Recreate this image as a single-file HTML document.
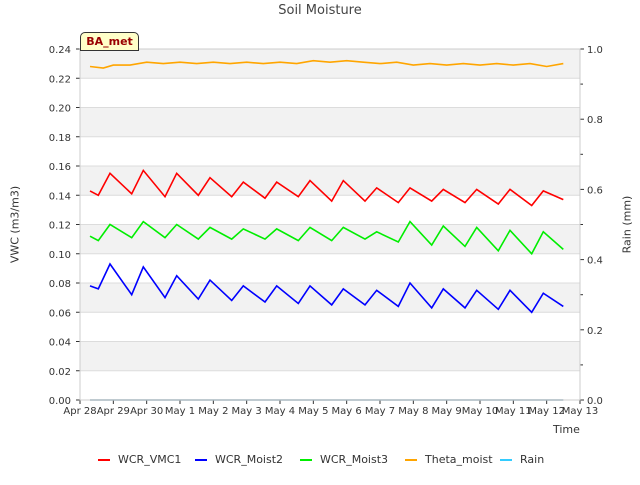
<!DOCTYPE html>
<html><head><meta charset="utf-8"><style>
body{margin:0;background:#fff;font-family:"Liberation Sans","DejaVu Sans",sans-serif}
svg text{font-family:"DejaVu Sans","Liberation Sans",sans-serif}
</style></head><body>
<svg id="c" width="640" height="480" xmlns="http://www.w3.org/2000/svg"></svg>
<script>
const xTicks=["Apr 28","Apr 29","Apr 30","May 1","May 2","May 3","May 4","May 5","May 6","May 7","May 8","May 9","May 10","May 11","May 12","May 13"];
const yTicks=[0,0.02,0.04,0.06,0.08,0.10,0.12,0.14,0.16,0.18,0.20,0.22,0.24];
const y2Ticks=[0,0.2,0.4,0.6,0.8,1.0];
const vmcStart=0.143,vmcEnd=0.137;
const vmcTrough=[0.140,0.141,0.139,0.140,0.139,0.138,0.139,0.136,0.136,0.135,0.136,0.135,0.134,0.133];
const vmcPeak=[0.155,0.157,0.155,0.152,0.149,0.149,0.150,0.150,0.145,0.145,0.144,0.144,0.144,0.143];
const m2Start=0.078,m2End=0.064;
const m2Trough=[0.076,0.072,0.070,0.069,0.068,0.067,0.066,0.065,0.065,0.064,0.063,0.063,0.062,0.060];
const m2Peak=[0.093,0.091,0.085,0.082,0.078,0.078,0.078,0.076,0.075,0.080,0.076,0.075,0.075,0.073];
const m3Start=0.112,m3End=0.103;
const m3Trough=[0.109,0.111,0.111,0.110,0.110,0.110,0.109,0.109,0.110,0.108,0.106,0.105,0.102,0.100];
const m3Peak=[0.120,0.122,0.120,0.118,0.117,0.117,0.118,0.118,0.115,0.122,0.119,0.118,0.116,0.115];
const thetaDays=[0.3,0.7,1,1.5,2,2.5,3,3.5,4,4.5,5,5.5,6,6.5,7,7.5,8,8.5,9,9.5,10,10.5,11,11.5,12,12.5,13,13.5,14,14.5];
const thetaVals=[0.228,0.227,0.229,0.229,0.231,0.230,0.231,0.230,0.231,0.230,0.231,0.230,0.231,0.230,0.232,0.231,0.232,0.231,0.230,0.231,0.229,0.230,0.229,0.230,0.229,0.230,0.229,0.230,0.228,0.230];
const rainDays=[0.3,14.5];
const rainVals=[0,0];

const NS="http://www.w3.org/2000/svg",svg=document.getElementById('c');
const X0=80,X1=580,Y0=400,Y1=49;
const xs=d=>X0+d*(X1-X0)/15, ys=v=>Y0-v/0.24*(Y0-Y1), ys2=v=>Y0-v*(Y0-Y1);
function el(t,a,txt){const e=document.createElementNS(NS,t);for(const k in a)e.setAttribute(k,a[k]);if(txt!=null)e.textContent=txt;svg.appendChild(e);return e;}
for(let i=0;i<6;i++){const lo=0.02+i*0.04;
 const r=el('rect',{x:X0,y:ys(lo+0.02),width:X1-X0,height:ys(lo)-ys(lo+0.02),fill:'#f2f2f2'});
 
 }
yTicks.forEach(v=>{const l=el('line',{x1:X0,x2:X1,y1:ys(v),y2:ys(v),stroke:'#dcdcdc','stroke-width':1});
 
 
 const t=el('text',{x:71,y:ys(v)+4,'text-anchor':'end','font-size':10,fill:'#333'},v.toFixed(2));
 
 
 el('line',{x1:76,x2:X0,y1:ys(v),y2:ys(v),stroke:'#333'});});
for(let i=0;i<=10;i++){el('line',{x1:X1,x2:X1+(i%2?3:4),y1:ys2(i/10),y2:ys2(i/10),stroke:'#333'});}
y2Ticks.forEach(v=>{const t=el('text',{x:587,y:ys2(v)+4,'font-size':10,fill:'#333'},v.toFixed(1));
 
 });
xTicks.forEach((s,i)=>{el('line',{x1:xs(i),x2:xs(i),y1:Y0,y2:Y0+4,stroke:'#333'});
 const t=el('text',{x:xs(i),y:414,'text-anchor':'middle','font-size':10,fill:'#333'},s);
 
 });
el('rect',{x:X0,y:Y1,width:X1-X0,height:Y0-Y1,fill:'none',stroke:'#ccc'});
function cyc(start,tr,pk,end){const p=[[0.3,start]];tr.forEach((t,k)=>{p.push([k+0.55,t]);p.push([k+0.9,pk[k]]);});p.push([14.5,end]);return p;}
function line(pts,col,name,f){const pl=el('polyline',{points:pts.map(p=>xs(p[0]).toFixed(1)+','+f(p[1]).toFixed(1)).join(' '),fill:'none',stroke:col,'stroke-width':1.6});
 
 }
line(rainDays.map((d,i)=>[d,rainVals[i]]),'#aab8c0','rain-line',ys2);
line(thetaDays.map((d,i)=>[d,thetaVals[i]]),'orange','theta-moist-line',ys);
line(cyc(vmcStart,vmcTrough,vmcPeak,vmcEnd),'red','wcr-vmc1-line',ys);
line(cyc(m2Start,m2Trough,m2Peak,m2End),'blue','wcr-moist2-line',ys);
line(cyc(m3Start,m3Trough,m3Peak,m3End),'#00ee00','wcr-moist3-line',ys);
</script>
<div style="position:absolute;left:0;top:0;width:640px;height:480px;pointer-events:none;font-family:'DejaVu Sans','Liberation Sans',sans-serif;color:#333">
<div style="position:absolute;left:0;width:640px;top:3px;text-align:center;font-size:13px;color:#444">Soil Moisture</div>
<div style="position:absolute;left:80px;top:32px;width:57px;height:17px;background:#ffffc8;border:1px solid #333;border-radius:5px 5px 0 0;font-size:11px;font-weight:bold;color:#900;text-align:center;line-height:17px">BA_met</div>
<div style="position:absolute;left:-30px;top:218px;width:90px;text-align:center;transform:rotate(-90deg);font-size:11px;white-space:nowrap">VWC (m3/m3)</div>
<div style="position:absolute;left:587px;top:218px;width:80px;text-align:center;transform:rotate(-90deg);font-size:11px;white-space:nowrap">Rain (mm)</div>
<div style="position:absolute;left:553px;top:423px;font-size:11px">Time</div>
<div style="position:absolute;top:453px;left:0;width:640px;font-size:11px;white-space:nowrap">
<span style="position:absolute;left:98px"><span style="display:inline-block;width:12px;border-top:2px solid red;vertical-align:middle;margin-right:8px"></span>WCR_VMC1</span>
<span style="position:absolute;left:195px"><span style="display:inline-block;width:12px;border-top:2px solid blue;vertical-align:middle;margin-right:8px"></span>WCR_Moist2</span>
<span style="position:absolute;left:300px"><span style="display:inline-block;width:12px;border-top:2px solid #00ee00;vertical-align:middle;margin-right:8px"></span>WCR_Moist3</span>
<span style="position:absolute;left:405px"><span style="display:inline-block;width:12px;border-top:2px solid orange;vertical-align:middle;margin-right:8px"></span>Theta_moist</span>
<span style="position:absolute;left:500px"><span style="display:inline-block;width:12px;border-top:2px solid #33ccff;vertical-align:middle;margin-right:8px"></span>Rain</span>
</div></div>
</body></html>
